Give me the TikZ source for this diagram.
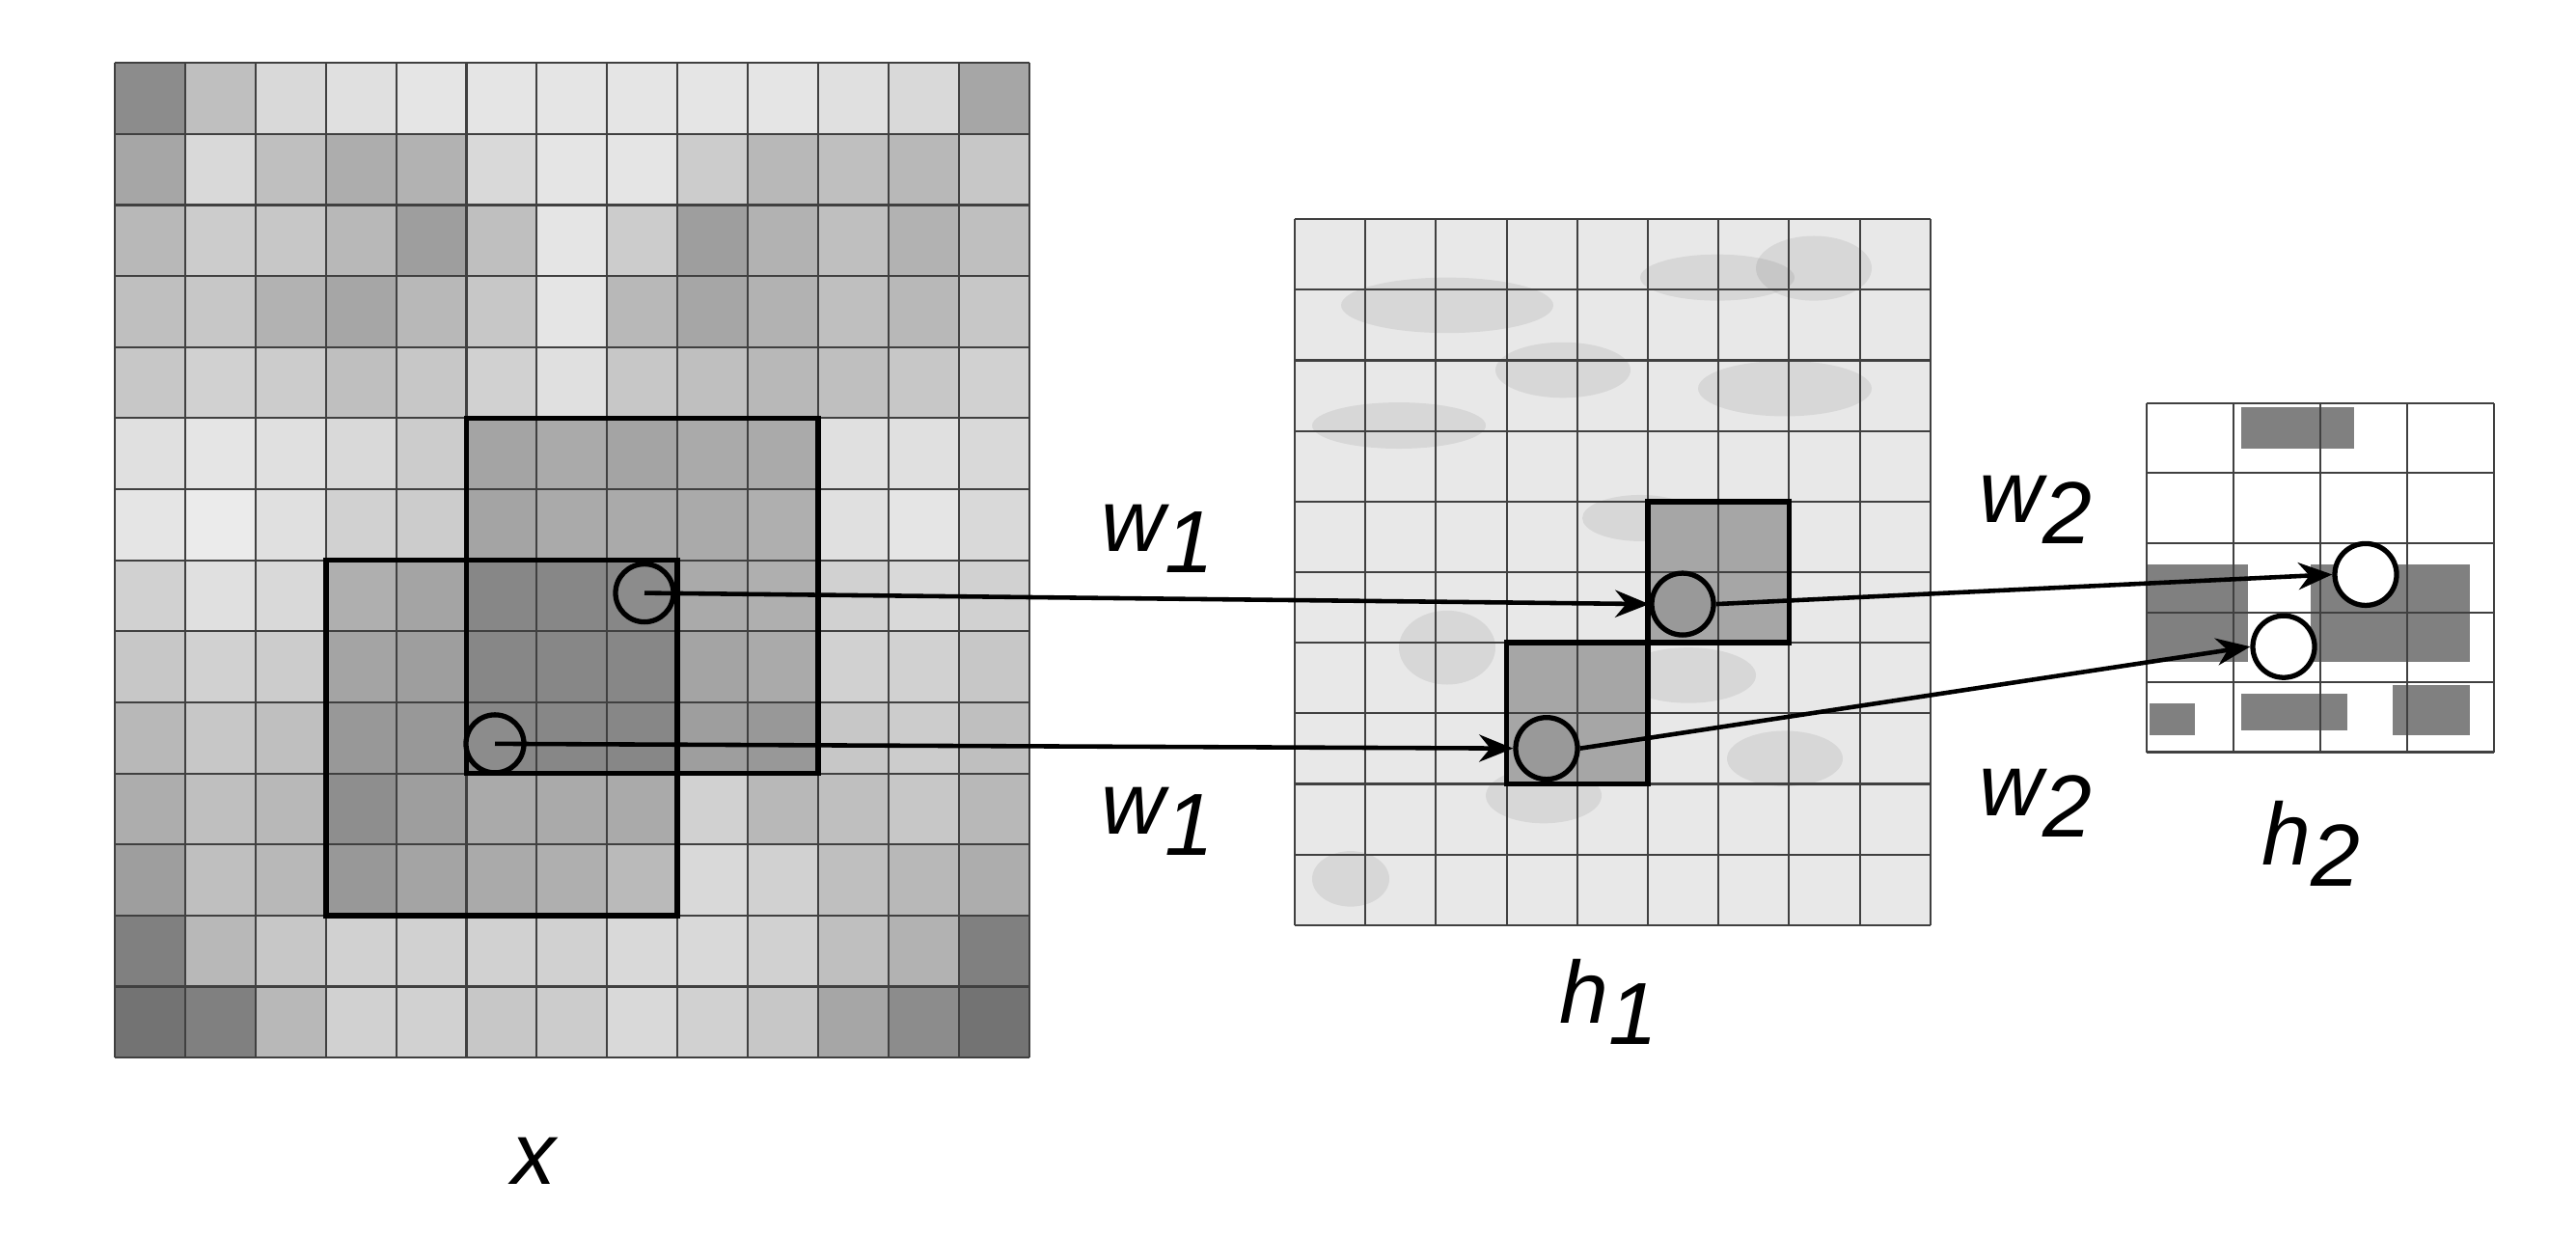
\documentclass[tikz,border=0pt]{standalone}
\usepackage{fontspec}
\setmainfont{Liberation Sans}
\usetikzlibrary{arrows.meta}
\begin{document}
\begin{tikzpicture}[x=0.01cm,y=-0.009588cm,
  gridline/.style={draw=black!75,line width=0.6pt},
  winbox/.style={draw=black,line width=1.6pt},
  circ/.style={circle,draw=black,line width=1.5pt,minimum size=0.6cm,inner sep=0pt},
  arr/.style={line width=1.3pt,-{Stealth[length=10pt,width=8pt]}},
  lab/.style={font=\fontsize{26}{30}\selectfont\itshape,inner sep=0pt}]
\useasboundingbox (0,0) rectangle (2670,1335);
% ---- input x: 13 cols x 14 rows
\def\xo{119}\def\yo{68}\def\cw{72.9}\def\ch{76.8}
\foreach \row [count=\r from 0] in {
{55,75,85,88,90,90,90,90,90,90,88,85,65},
{65,85,75,68,70,85,90,90,80,72,75,72,78},
{72,80,78,72,62,75,90,80,62,70,75,70,75},
{75,78,70,65,72,78,90,72,65,70,75,72,78},
{78,82,80,75,78,82,88,78,75,72,75,78,82},
{88,90,88,85,80,75,78,75,78,78,88,88,85},
{90,92,88,82,80,75,78,78,78,80,88,90,85},
{82,88,85,80,75,72,72,72,78,80,82,85,82},
{78,82,80,75,72,72,72,72,75,78,82,82,78},
{72,78,75,70,70,72,72,72,72,70,78,80,75},
{68,75,72,65,72,78,78,78,82,72,75,78,72},
{62,75,72,70,75,78,80,85,85,82,75,72,68},
{50,72,78,82,82,82,82,85,85,82,75,70,50},
{45,50,72,82,82,78,80,85,82,78,65,55,45}}{
  \foreach \v [count=\c from 0] in \row {
    \fill[white!\v!black] ({\xo+\c*\cw},{\yo+\r*\ch}) rectangle ++(\cw,\ch);
  }
}
\fill[black,opacity=0.14] ({\xo+5*\cw},{\yo+5*\ch}) rectangle ({\xo+10*\cw},{\yo+10*\ch});
\fill[black,opacity=0.14] ({\xo+3*\cw},{\yo+7*\ch}) rectangle ({\xo+8*\cw},{\yo+12*\ch});
\foreach \c in {0,...,13} \draw[gridline] ({\xo+\c*\cw},\yo) -- ++(0,{14*\ch});
\foreach \r in {0,...,14} \draw[gridline] (\xo,{\yo+\r*\ch}) -- ++({13*\cw},0);
\draw[winbox] ({\xo+5*\cw},{\yo+5*\ch}) rectangle ({\xo+10*\cw},{\yo+10*\ch});
\draw[winbox] ({\xo+3*\cw},{\yo+7*\ch}) rectangle ({\xo+8*\cw},{\yo+12*\ch});
% ---- h1: 9 cols x 10 rows
\def\ho{1342}\def\hy{237}\def\hw{73.2}\def\hh{76.3}
\fill[black!9] (\ho,\hy) rectangle ++({9*\hw},{10*\hh});
\foreach \ex/\ey/\ea/\eb in {1500/330/110/30,1780/300/80/25,1880/290/60/35,1450/460/90/25,1620/400/70/30,1850/420/90/30,1700/560/60/25,1500/700/50/40,1750/730/70/30,1600/860/60/30,1850/820/60/30,1400/950/40/30}
  \fill[black,opacity=0.07] (\ex,\ey) ellipse ({\ea} and {\eb});
\fill[black!35] ({\ho+5*\hw},{\hy+4*\hh}) rectangle ({\ho+7*\hw},{\hy+6*\hh});
\fill[black!35] ({\ho+3*\hw},{\hy+6*\hh}) rectangle ({\ho+5*\hw},{\hy+8*\hh});
\foreach \c in {0,...,9} \draw[gridline] ({\ho+\c*\hw},\hy) -- ++(0,{10*\hh});
\foreach \r in {0,...,10} \draw[gridline] (\ho,{\hy+\r*\hh}) -- ++({9*\hw},0);
\draw[winbox] ({\ho+5*\hw},{\hy+4*\hh}) rectangle ({\ho+7*\hw},{\hy+6*\hh});
\draw[winbox] ({\ho+3*\hw},{\hy+6*\hh}) rectangle ({\ho+5*\hw},{\hy+8*\hh});
% ---- h2: 4 cols x 5 rows
\def\ko{2225}\def\ky{436}\def\kw{90}\def\kh{75.4}
\fill[white] (\ko,\ky) rectangle ++({4*\kw},{5*\kh});
\fill[black!50] (2323,440) rectangle (2440,485);
\fill[black!50] (2225,610) rectangle (2330,715);
\fill[black!50] (2395,610) rectangle (2560,715);
\fill[black!50] (2323,750) rectangle (2433,790);
\fill[black!50] (2228,760) rectangle (2275,795);
\fill[black!50] (2480,740) rectangle (2560,795);
\foreach \c in {0,...,4} \draw[gridline] ({\ko+\c*\kw},\ky) -- ++(0,{5*\kh});
\foreach \r in {0,...,5} \draw[gridline] (\ko,{\ky+\r*\kh}) -- ++({4*\kw},0);
% ---- circles
\node[circ,fill=black!45] (ca) at (668,641) {};
\node[circ,fill=black!45] (cb) at (513,804) {};
\node[circ,fill=black!40,minimum size=0.64cm] (cc) at (1744,653) {};
\node[circ,fill=black!40,minimum size=0.64cm] (cd) at (1603,809) {};
\node[circ,fill=white,minimum size=0.64cm] (ce) at (2452,621) {};
\node[circ,fill=white,minimum size=0.64cm] (cf) at (2367,699) {};
% ---- arrows
\draw[arr] (ca.center) -- (cc.west);
\draw[arr] (cb.center) -- (cd.west);
\draw[arr] (cc.east) -- (ce.west);
\draw[arr] (cd.east) -- (cf.west);
% ---- labels
\node[lab] (lw1a) at (1200,582) {w\raisebox{-0.45ex}{1}};
\node[lab] (lw1b) at (1200,888) {w\raisebox{-0.45ex}{1}};
\node[lab] (lw2a) at (2110,551) {w\raisebox{-0.45ex}{2}};
\node[lab] (lw2b) at (2110,868) {w\raisebox{-0.45ex}{2}};
\node[lab] (lh1) at (1667,1083) {h\raisebox{-0.45ex}{1}};
\node[lab] (lh2) at (2395,912) {h\raisebox{-0.45ex}{2}};
\node[lab] (lx) at (553,1255) {x};
\end{tikzpicture}
\end{document}
